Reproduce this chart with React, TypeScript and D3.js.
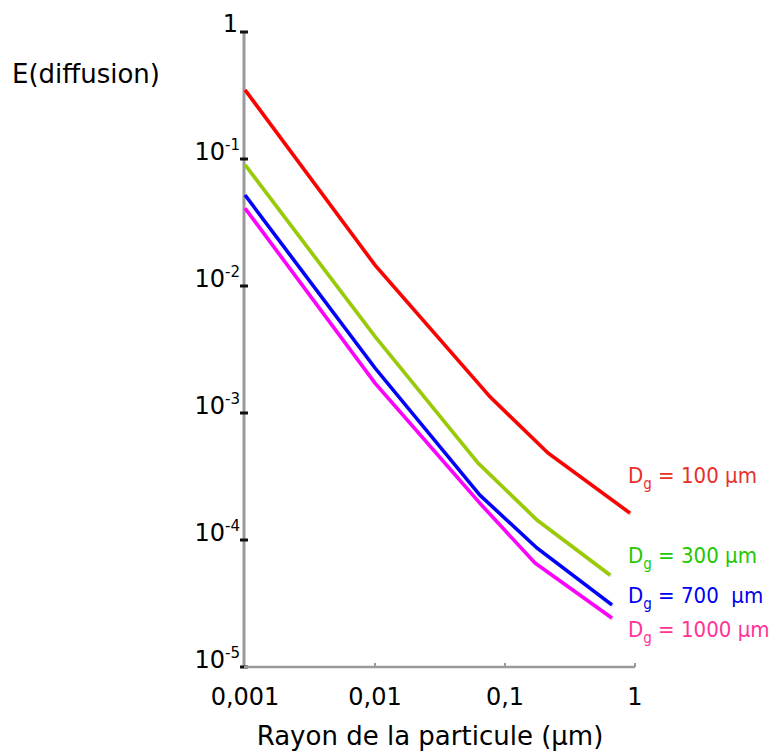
import React from 'react';
import * as d3 from 'd3';

// particle radius (µm)
const radius100 = [0.001, 0.01, 0.0767, 0.214, 0.915];
const eff100 = [0.35, 0.0146, 0.00134, 0.000484, 0.000163];

const radius300 = [0.001, 0.01, 0.062, 0.176, 0.643];
const eff300 = [0.09, 0.004, 0.000404, 0.000144, 0.000053];

const radius700 = [0.001, 0.01, 0.064, 0.176, 0.665];
const eff700 = [0.052, 0.00226, 0.000226, 0.0000865, 0.0000308];

const radius1000 = [0.001, 0.01, 0.064, 0.17, 0.665];
const eff1000 = [0.041, 0.00172, 0.000195, 0.0000659, 0.0000243];

const seriesNames = ['100 µm', '300 µm', '700  µm', '1000 µm'];
const lineColors = ['#ff0000', '#99cc00', '#0000ff', '#ff00ff'];
const textColors = ['#e8302a', '#22c800', '#0000f0', '#ff3399'];

const yTicks = [1, 0.1, 0.01, 0.001, 0.0001, 0.00001];
const yExps = ['', '-1', '-2', '-3', '-4', '-5'];
const xTicks = [0.001, 0.01, 0.1, 1];
const xTickLabels = ['0,001', '0,01', '0,1', '1'];

export default function App() {
    var x = d3.scaleLog().domain([0.001, 1]).range([245, 635]);
    var y = d3.scaleLog().domain([0.00001, 1]).range([667, 32]);

    var series = [
        { r: radius100, e: eff100 },
        { r: radius300, e: eff300 },
        { r: radius700, e: eff700 },
        { r: radius1000, e: eff1000 }
    ];

    var line = d3.line<[number, number]>()
        .x(function (d) { return x(d[0]); })
        .y(function (d) { return y(d[1]); });

    var legendY = [483, 563, 603, 637];
    var font = 'DejaVu Sans, Verdana, sans-serif';

    return (
        <svg width={774} height={755} style={{ position: 'absolute', left: 0, top: 0, background: '#fff' }}
             fontFamily={font}>
            <text x={12} y={83} fontSize={26} fill="#000">E(diffusion)</text>

            {/* y axis */}
            <line x1={244} x2={244} y1={y(1)} y2={y(0.00001)} stroke="#9a9a9a" strokeWidth={3}/>
            {yTicks.map(function (t, i) {
                return (
                    <g key={'y' + i}>
                        <line x1={240} x2={248} y1={y(t)} y2={y(t)} stroke="#111" strokeWidth={3}/>
                        {i === 0 ? (
                            <text x={238} y={y(t)} fontSize={24} textAnchor="end">1</text>
                        ) : (
                            <text x={240} y={y(t) + 1} fontSize={24} textAnchor="end">
                                10<tspan dy={-10} fontSize={15}>{yExps[i]}</tspan>
                            </text>
                        )}
                    </g>
                );
            })}

            {/* x axis */}
            <line x1={244} x2={x(1)} y1={667} y2={667} stroke="#9a9a9a" strokeWidth={2.5}/>
            {xTicks.map(function (t, i) {
                return (
                    <g key={'x' + i}>
                        {i > 0 && <line x1={x(t)} x2={x(t)} y1={663} y2={667} stroke="#9a9a9a" strokeWidth={2}/>}
                        <text x={x(t)} y={705} fontSize={24} textAnchor="middle">{xTickLabels[i]}</text>
                    </g>
                );
            })}
            <text x={430} y={745} fontSize={26} textAnchor="middle">Rayon de la particule (µm)</text>

            {/* curves */}
            {series.map(function (s, i) {
                var pts = s.r.map(function (r, j) { return [r, s.e[j]] as [number, number]; });
                return (
                    <g key={'s' + i}>
                        <path d={line(pts) || ''} fill="none" stroke="#bbb" strokeWidth={4} transform="translate(1,1)" opacity={0.5}/>
                        <path d={line(pts) || ''} fill="none" stroke={lineColors[i]} strokeWidth={3.5}/>
                    </g>
                );
            })}

            {/* labels */}
            {seriesNames.map(function (n, i) {
                return (
                    <text key={'l' + i} x={628} y={legendY[i]} fontSize={22} fill={textColors[i]}
                          fontFamily="DejaVu Sans Condensed, DejaVu Sans, sans-serif"
                          style={{ whiteSpace: 'pre' }}>
                        D<tspan dy={6} fontSize={15}>g</tspan><tspan dy={-6}>{' = ' + n}</tspan>
                    </text>
                );
            })}
        </svg>
    );
}
